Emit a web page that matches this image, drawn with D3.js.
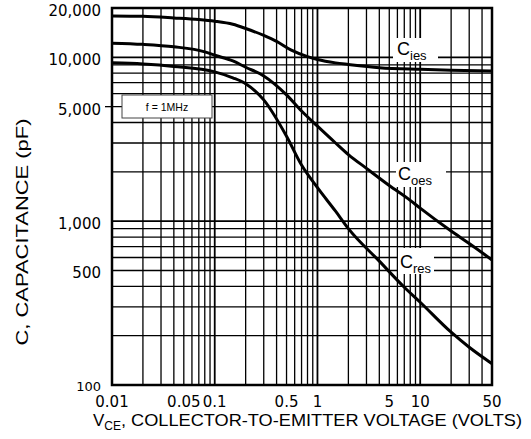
<!DOCTYPE html>
<html><head><meta charset="utf-8">
<script src="https://cdn.jsdelivr.net/npm/d3@7"></script>
<style>body{margin:0;background:#fff}</style>
</head><body>
<svg id="c" width="531" height="439"></svg>
<script>
// ---- data ----
const xTickValues = [0.01, 0.05, 0.1, 0.5, 1, 5, 10, 50];
const xTickLabels = ["0.01", "0.05", "0.1", "0.5", "1", "5", "10", "50"];
const yTickValues = [20000, 10000, 5000, 1000, 500, 100];
const yTickLabels = ["20,000", "10,000", "5,000", "1,000", "500", "100"];

const ciesV = [0.01, 0.02, 0.04, 0.07, 0.1, 0.15, 0.2, 0.3, 0.4, 0.55, 0.8, 1, 1.5, 2, 4, 10, 20, 50];
const ciesC = [17900, 17800, 17400, 17000, 16600, 15900, 15000, 13600, 12500, 11100, 10100, 9700, 9250, 9050, 8650, 8450, 8350, 8250];

const coesV = [0.01, 0.02, 0.04, 0.08, 0.1, 0.15, 0.2, 0.3, 0.5, 0.7, 1, 1.5, 2, 3, 5, 8, 10, 20, 30, 50];
const coesC = [12200, 12000, 11600, 10800, 10300, 9500, 8700, 7700, 5900, 4700, 3800, 3000, 2550, 2100, 1650, 1340, 1200, 870, 730, 580];

const cresV = [0.01, 0.02, 0.04, 0.1, 0.15, 0.2, 0.3, 0.5, 0.7, 1, 1.5, 2, 4, 7, 10, 20, 30, 50];
const cresC = [9250, 9100, 8800, 8150, 7500, 6900, 5500, 3300, 2200, 1600, 1150, 900, 570, 395, 320, 210, 170, 135];

const seriesNames = ["ies", "oes", "res"];
const legendText = "f = 1MHz";

// ---- layout ----
const svg = d3.select("#c");
const x = d3.scaleLog().domain([0.01, 50]).range([112, 492]);
const y = d3.scaleLog().domain([100, 20000]).range([385, 8]);
const [x0, x1] = x.range();
const [y0, y1] = y.range();

// grid values
const xGrid = [];
[0.01, 0.1, 1, 10].forEach(d => { for (let m = 1; m <= 9; m++) { const v = d * m; if (v > 0.0100001 && v < 49.999) xGrid.push(v); } });
const yGrid = [];
[100, 1000].forEach(d => { for (let m = 1; m <= 9; m++) { const v = d * m; if (v > 100.1) yGrid.push(v); } });
yGrid.push(10000);

const isDecade = v => Math.abs(Math.log10(v) - Math.round(Math.log10(v))) < 1e-6;

const g = svg.append("g");
g.selectAll("line.vx").data(xGrid).join("line")
  .attr("x1", d => x(d)).attr("x2", d => x(d)).attr("y1", y1).attr("y2", y0)
  .attr("stroke", "#000").attr("stroke-width", d => isDecade(d) ? 1.8 : 1.3);
g.selectAll("line.hy").data(yGrid).join("line")
  .attr("y1", d => y(d)).attr("y2", d => y(d)).attr("x1", x0).attr("x2", x1)
  .attr("stroke", "#000").attr("stroke-width", d => isDecade(d) ? 1.8 : 1.3);

// white label backgrounds
const boxes = [[393, 38, 45, 24], [396, 162, 50, 25], [398, 248, 36, 26]];
g.selectAll("rect.bg").data(boxes).join("rect")
  .attr("x", d => d[0]).attr("y", d => d[1]).attr("width", d => d[2]).attr("height", d => d[3])
  .attr("fill", "#fff");

// legend box
svg.append("rect").attr("x", 122).attr("y", 95).attr("width", 90).attr("height", 23)
  .attr("fill", "#fff").attr("stroke", "#444").attr("stroke-width", 1);
svg.append("text").attr("x", 167).attr("y", 111).attr("text-anchor", "middle")
  .attr("font-family", "Liberation Sans, Arial, sans-serif").attr("font-size", 10.5)
  .text(legendText);

// frame
svg.append("rect").attr("x", x0).attr("y", y1).attr("width", x1 - x0).attr("height", y0 - y1)
  .attr("fill", "none").attr("stroke", "#000").attr("stroke-width", 2.5);
svg.append("line").attr("x1", x0 - 7).attr("x2", x0).attr("y1", y(5000)).attr("y2", y(5000))
  .attr("stroke", "#000").attr("stroke-width", 1.3);

// curves
const line = d3.line().x(d => x(d[0])).y(d => y(d[1])).curve(d3.curveMonotoneX);
const series = [
  ciesV.map((v, i) => [v, ciesC[i]]),
  coesV.map((v, i) => [v, coesC[i]]),
  cresV.map((v, i) => [v, cresC[i]])
];
svg.selectAll("path.s").data(series).join("path")
  .attr("d", line).attr("fill", "none").attr("stroke", "#000").attr("stroke-width", 3)
  .attr("stroke-linecap", "butt");

// curve labels
const labelPos = [[397, 55], [398, 180], [400, 268]];
labelPos.forEach((p, i) => {
  const t = svg.append("text").attr("x", p[0]).attr("y", p[1])
    .attr("font-family", "Liberation Sans, Arial, sans-serif").attr("font-size", 18);
  t.append("tspan").text("C");
  t.append("tspan").attr("font-size", 13).attr("dy", 5).text(seriesNames[i]);
});

// y tick labels
const font = "DejaVu Sans, Liberation Sans, sans-serif";
svg.selectAll("text.yl").data(yTickValues).join("text")
  .attr("x", (d, i) => d === 100 ? 101 : 101)
  .attr("y", d => d === 100 ? y(d) + 1 : y(d) + 3)
  .attr("text-anchor", "end").attr("dominant-baseline", "central")
  .attr("font-family", font).attr("font-size", d => d === 100 ? 13 : 15)
  .text((d, i) => yTickLabels[i]);

// x tick labels
svg.selectAll("text.xl").data(xTickValues).join("text")
  .attr("x", d => x(d)).attr("y", 402)
  .attr("text-anchor", "middle").attr("dominant-baseline", "central")
  .attr("font-family", font).attr("font-size", 15)
  .text((d, i) => xTickLabels[i]);

// x title
const xt = svg.append("text").attr("x", 93).attr("y", 426)
  .attr("font-family", "Liberation Sans, Arial, sans-serif").attr("font-size", 17);
const tV = xt.append("tspan").text("V");
const tCE = xt.append("tspan").attr("font-size", 12).attr("dy", 4).text("CE");
const tRest = xt.append("tspan").attr("dy", -4).text(", COLLECTOR-TO-EMITTER VOLTAGE (VOLTS)");
const used = tV.node().getComputedTextLength() + tCE.node().getComputedTextLength();
tRest.attr("textLength", 429 - used).attr("lengthAdjust", "spacingAndGlyphs");

// y title
svg.append("text").attr("transform", "translate(28,232) rotate(-90)")
  .attr("text-anchor", "middle")
  .attr("font-family", "Liberation Sans, Arial, sans-serif").attr("font-size", 17)
  .attr("textLength", 227).attr("lengthAdjust", "spacingAndGlyphs")
  .text("C, CAPACITANCE (pF)");
</script>
</body></html>
